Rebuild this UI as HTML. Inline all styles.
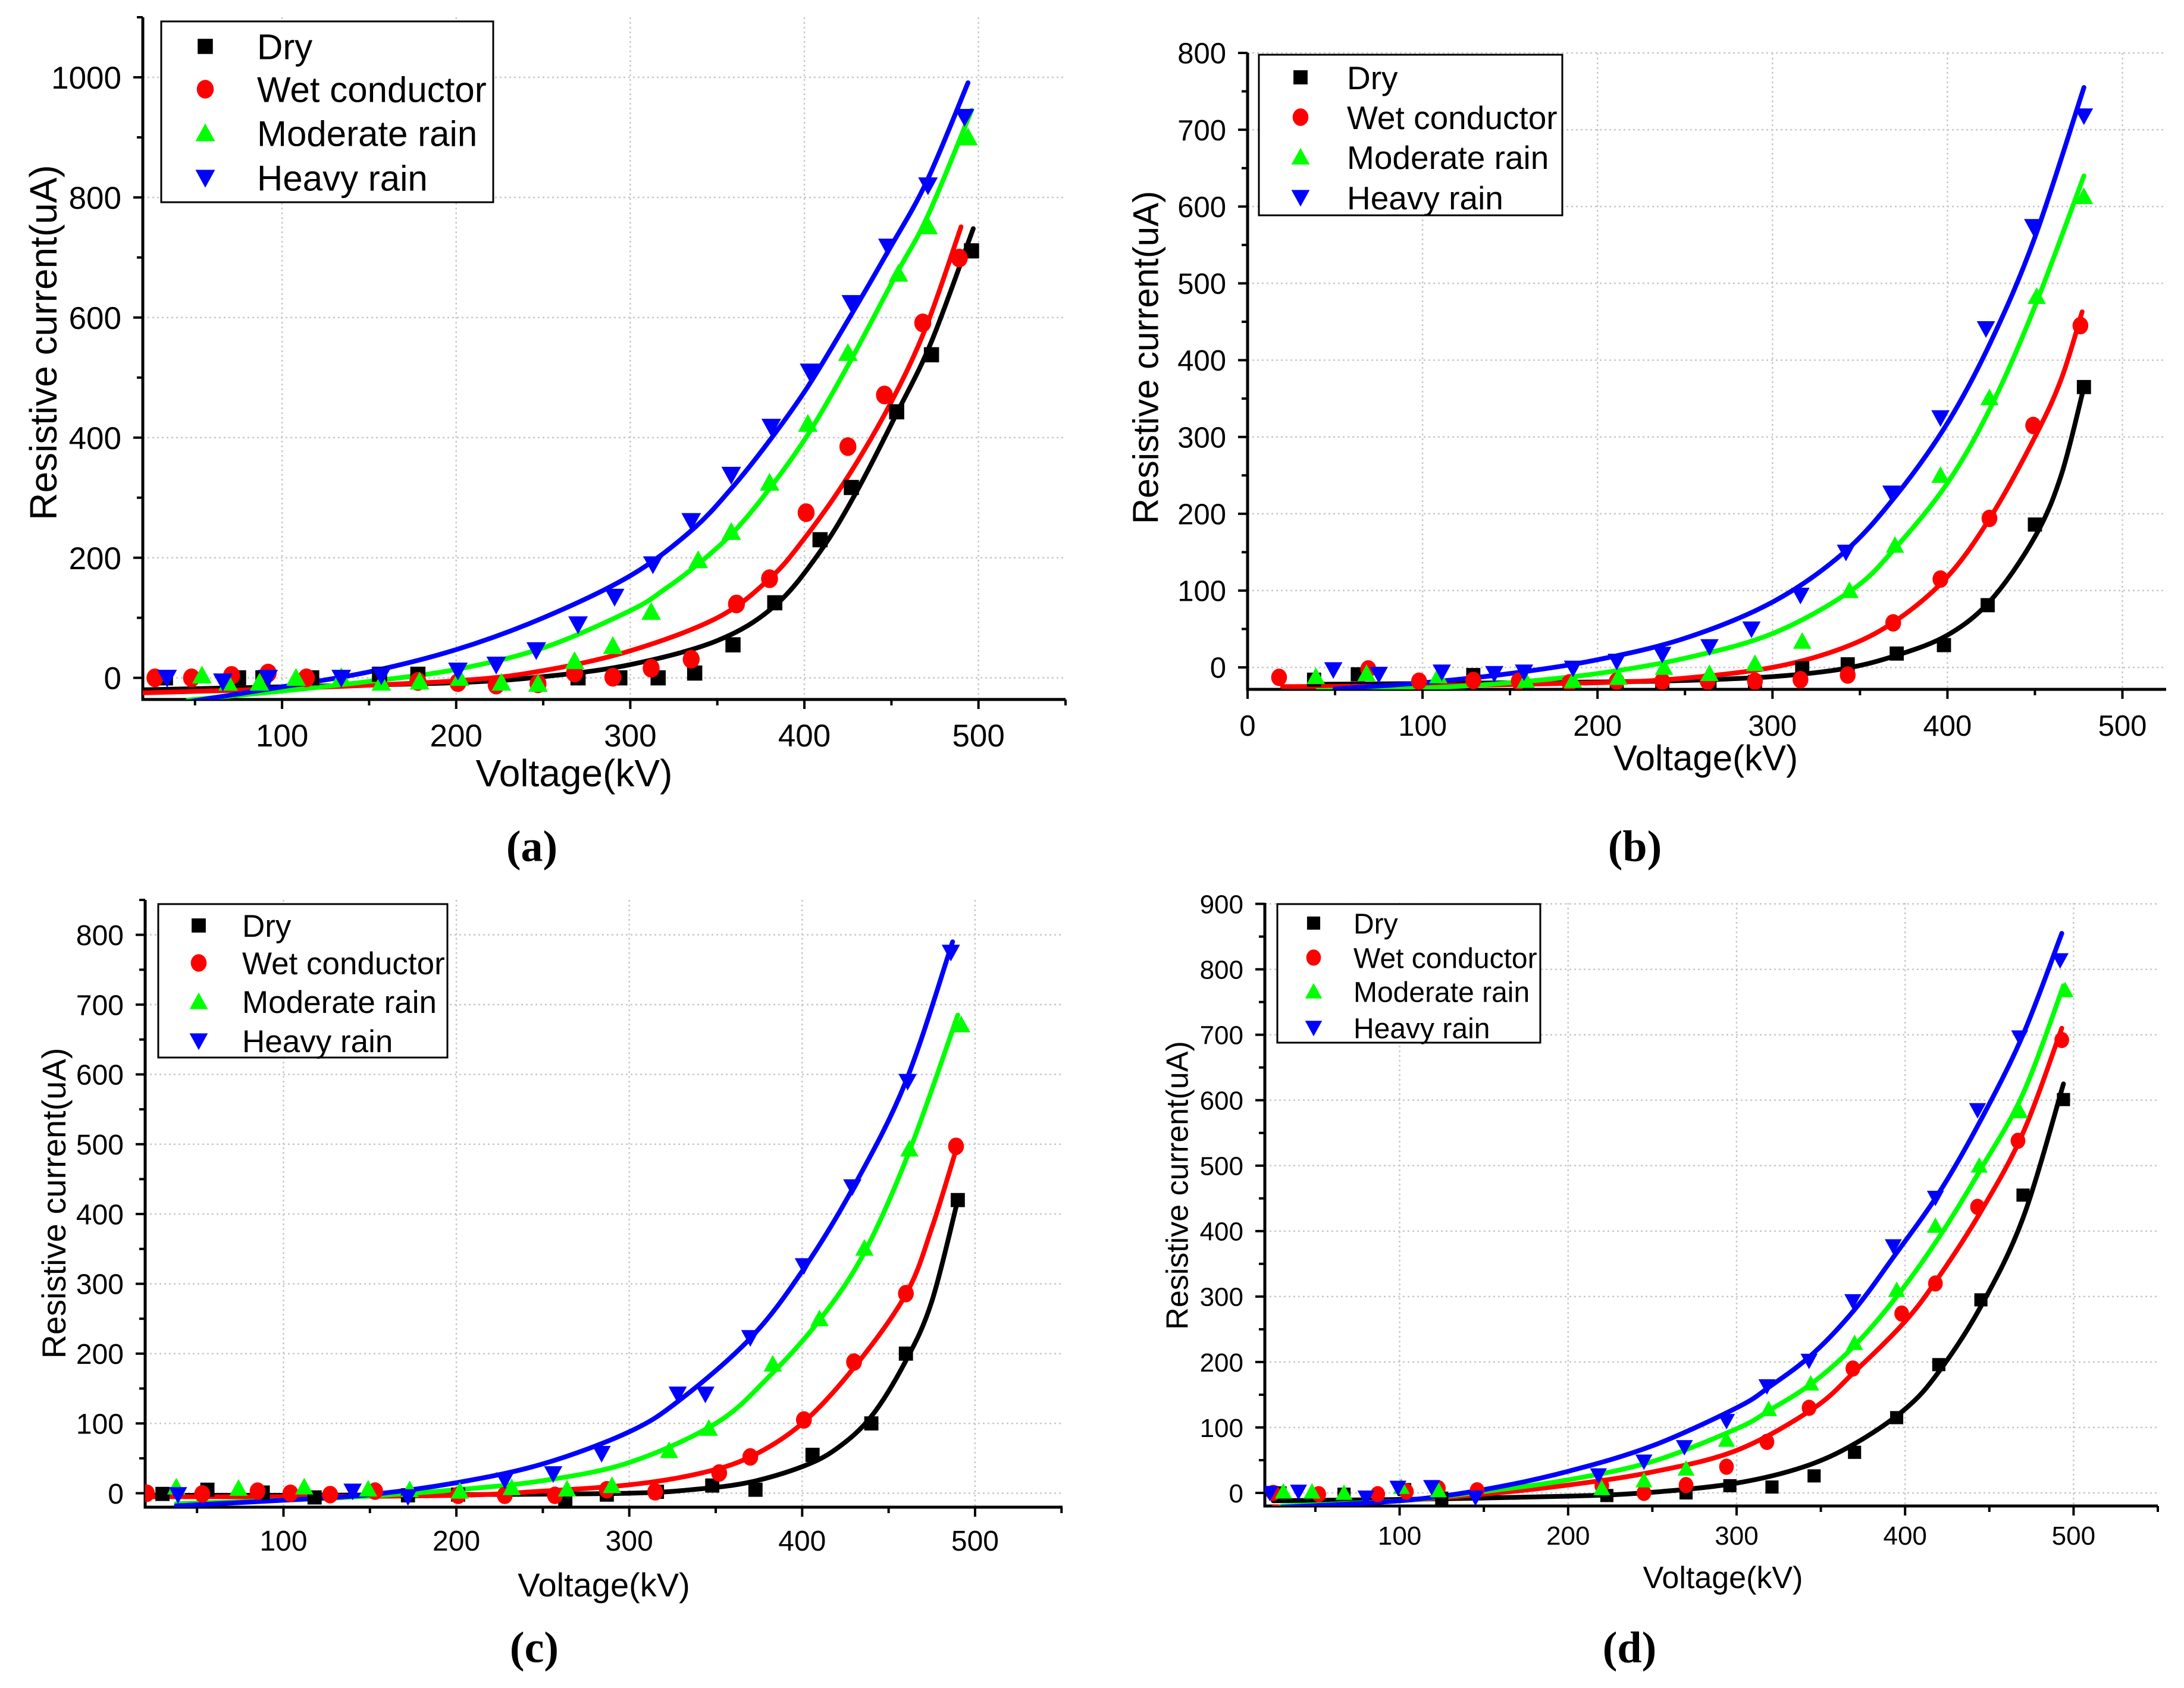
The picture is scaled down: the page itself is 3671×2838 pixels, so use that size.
<!DOCTYPE html>
<html><head><meta charset="utf-8">
<style>
html,body{margin:0;padding:0;background:#fff;}
svg{display:block;}
text{font-family:"Liberation Sans",Arial,sans-serif;fill:#000;}
.cap{font-family:"Liberation Serif","Times New Roman",serif;font-weight:bold;}
</style></head>
<body>
<svg id="fig" width="3671" height="2838" viewBox="0 0 3671 2838" xmlns="http://www.w3.org/2000/svg"></svg>
<script>
// ===== Panel (a) data =====
const aDryV=[33,75,89,117,156,178,270,294,316,337,359,383,409,427,453,473,496];
const aDryI=[0,0,0,0,6,6,0,0,0,8,55,125,230,317,443,538,711];
const aWetV=[27,48,71,92,114,178,201,223,247,268,290,312,335,361,380,401,425,446,468,489];
const aWetI=[0,0,4,8,0,-6,-8,-12,-10,8,1,16,31,123,165,275,385,471,591,699];
const aModV=[54,69,87,108,134,157,179,202,226,247,268,290,312,339,358,380,402,425,454,471,494];
const aModI=[4,-8,-8,0,1,-8,-6,0,-8,-10,28,53,110,196,243,325,423,541,673,752,900];
const aHeaV=[34,66,92,134,157,201,223,246,270,291,313,335,358,381,403,427,448,471,492];
const aHeaI=[0,-6,0,0,4,12,22,46,89,135,189,261,338,418,510,624,718,820,934];
const aDryFitV=[20,100,200,250,300,350,383,409,430,453,473,497];
const aDryFitI=[-20,-15,-8,2,22,62,120,210,310,440,560,748];
const aWetFitV=[20,100,200,250,300,350,380,400,425,450,470,490];
const aWetFitI=[-25,-18,-5,12,45,100,165,232,335,460,585,751];
const aModFitV=[46,100,150,200,250,300,320,340,360,380,402,425,453,471,496];
const aModFitI=[-37,-22,-6,14,50,112,148,192,245,315,405,520,673,770,945];
const aHeaFitV=[46,100,150,200,250,300,335,358,380,402,426,448,470,494];
const aHeaFitI=[-40,-15,10,47,100,170,245,315,395,485,600,710,825,991];

// ===== Panel (b) data =====
const bDryV=[38,63,129,184,211,237,264,290,317,343,371,398,423,450,478];
const bDryI=[-16,-9,-10,-23,-23,-22,-22,-19,-1,4,18,29,81,186,365];
const bWetV=[18,69,98,129,155,184,211,237,263,290,316,343,369,396,424,449,476];
const bWetI=[-13,-2,-18,-17,-18,-20,-18,-18,-18,-18,-16,-10,58,115,194,315,445];
const bModV=[39,68,109,159,186,212,238,264,290,317,344,370,396,424,451,478];
const bModI=[-12,-8,-11,-17,-17,-13,0,-8,5,34,100,159,250,351,483,613];
const bHeaV=[49,75,111,141,158,186,211,237,264,288,316,342,368,396,422,449,478];
const bHeaI=[-3,-9,-6,-8,-6,-1,8,17,27,50,94,150,227,325,441,574,718];
const bDryFitV=[40,100,200,250,300,340,370,400,425,450,465,478];
const bDryFitI=[-22,-21,-19,-17,-12,-2,15,42,88,170,250,365];
const bWetFitV=[20,100,200,250,300,340,370,400,425,450,465,477];
const bWetFitI=[-25,-24,-20,-14,0,25,60,118,197,300,375,463];
const bModFitV=[40,100,150,200,250,300,345,370,400,425,450,478];
const bModFitI=[-30,-27,-20,-8,12,44,100,155,240,340,470,640];
const bHeaFitV=[50,100,150,200,250,300,340,370,400,425,450,478];
const bHeaFitI=[-28,-20,-8,10,38,85,148,222,318,425,560,755];

// ===== Panel (c) data =====
const cDryV=[30,56,88,118,172,201,263,287,316,348,373,406,440,460,490];
const cDryI=[-1,5,1,-6,-3,-2,-11,-2,2,11,5,55,100,200,420];
const cWetV=[21,53,85,104,127,153,201,228,257,287,315,352,370,401,430,460,489];
const cWetI=[0,-1,3,0,-2,3,-3,-3,-3,5,2,29,52,105,188,286,497];
const cModV=[38,74,112,149,173,202,232,264,290,323,346,383,410,436,462,492];
const cModI=[9,7,9,6,5,3,8,6,11,61,93,185,250,351,493,671];
const cHeaV=[39,140,172,228,256,284,328,344,370,401,429,461,486];
const cHeaI=[-2,3,-5,19,28,57,142,142,223,326,439,590,775];
const cDryFitV=[25,100,200,300,340,370,400,420,440,460,475,490];
const cDryFitI=[-3,-3,-2,0,6,16,38,64,110,190,275,420];
const cWetFitV=[20,100,200,250,300,340,370,400,430,460,475,490];
const cWetFitI=[-5,-5,-3,3,12,28,52,100,180,285,380,500];
const cModFitV=[38,100,150,200,250,300,350,380,410,436,462,490];
const cModFitI=[-15,-10,-4,5,18,44,100,165,248,345,490,685];
const cHeaFitV=[38,100,150,200,250,300,330,370,400,430,460,487];
const cHeaFitI=[-18,-10,-2,15,42,88,135,222,318,440,590,790];

// ===== Panel (d) data =====
const dDryV=[29,67,103,125,223,270,296,321,346,370,395,420,445,470,494];
const dDryI=[0,-2,5,-8,-4,0,11,9,26,62,115,196,295,455,601];
const dWetV=[25,52,87,104,123,146,220,245,270,294,318,343,369,398,418,443,467,493];
const dWetI=[0,-2,-2,2,7,4,11,0,12,40,78,130,190,274,320,437,538,692];
const dModV=[31,48,67,101,123,220,245,270,294,319,344,370,395,418,444,468,495];
const dModI=[2,2,0,9,4,7,19,37,81,128,167,229,310,408,500,583,768];
const dHeaV=[23,40,80,99,119,145,218,245,269,294,318,343,369,393,418,443,468,492];
const dHeaI=[0,2,-7,8,9,-7,27,48,70,110,163,202,293,377,451,585,696,814];
const dDryFitV=[25,100,200,250,300,340,370,400,420,445,470,494];
const dDryFitI=[-12,-10,-5,1,15,40,75,128,185,285,420,625];
const dWetFitV=[25,100,150,200,250,300,345,370,400,420,445,470,493];
const dWetFitI=[-22,-12,-2,12,32,65,128,185,262,330,430,550,710];
const dModFitV=[30,100,150,200,250,300,320,345,370,395,420,445,470,494];
const dModFitI=[-20,-12,2,20,48,98,127,168,225,300,390,495,610,775];
const dHeaFitV=[30,100,150,200,250,300,320,345,370,393,420,445,470,493];
const dHeaFitI=[-22,-12,5,33,72,130,163,212,280,360,458,570,700,855];

// ===== Ticks / labels =====
const seriesNames=["Dry","Wet conductor","Moderate rain","Heavy rain"];
const xTicksA=[100,200,300,400,500];
const xTicksB=[0,100,200,300,400,500];
const yTicksA=[0,200,400,600,800,1000];
const yTicksB=[0,100,200,300,400,500,600,700,800];
const yTicksD=[0,100,200,300,400,500,600,700,800,900];

const NS="http://www.w3.org/2000/svg";
const svg=document.getElementById('fig');
const colors=["#000000","#ff0000","#00ff00","#0000ff"];
const shapes=["square","circle","up","down"];

function mk(tag,attrs,parent){const e=document.createElementNS(NS,tag);for(const k in attrs)e.setAttribute(k,attrs[k]);parent.appendChild(e);return e;}

function marker(g,shape,cx,cy,s,color){
  let e;
  if(shape==="square"){e=mk('rect',{x:cx-s*0.85,y:cy-s*0.85,width:s*1.7,height:s*1.7,fill:color},g);}
  else if(shape==="circle"){e=mk('ellipse',{cx:cx,cy:cy,rx:s*0.95,ry:s*1.05,fill:color},g);}
  else if(shape==="up"){e=mk('polygon',{points:`${cx},${cy-s*1.1} ${cx+s*1.1},${cy+s*0.9} ${cx-s*1.1},${cy+s*0.9}`,fill:color},g);}
  else {e=mk('polygon',{points:`${cx-s*1.1},${cy-s*0.9} ${cx+s*1.1},${cy-s*0.9} ${cx},${cy+s*1.1}`,fill:color},g);}
  return e;
}

function smoothPath(pts){
  let d=`M${pts[0][0].toFixed(1)},${pts[0][1].toFixed(1)}`;
  for(let i=0;i<pts.length-1;i++){
    const p0=pts[i-1]||pts[i],p1=pts[i],p2=pts[i+1],p3=pts[i+2]||pts[i+1];
    const c1x=p1[0]+(p2[0]-p0[0])/6,c1y=p1[1]+(p2[1]-p0[1])/6;
    const c2x=p2[0]-(p3[0]-p1[0])/6,c2y=p2[1]-(p3[1]-p1[1])/6;
    d+=` C${c1x.toFixed(1)},${c1y.toFixed(1)} ${c2x.toFixed(1)},${c2y.toFixed(1)} ${p2[0].toFixed(1)},${p2[1].toFixed(1)}`;
  }
  return d;
}

function panel(cfg){
  const g=mk('g',{},svg);
  
  
  const X=v=>cfg.L+(v-cfg.xmin)*(cfg.R-cfg.L)/(cfg.xmax-cfg.xmin);
  const Y=v=>cfg.B-(v-cfg.ymin)*(cfg.B-cfg.T)/(cfg.ymax-cfg.ymin);
  const clipId='clip'+cfg.id;
  const cp=mk('clipPath',{id:clipId},g);
  mk('rect',{x:cfg.L,y:cfg.T-20,width:cfg.R-cfg.L,height:cfg.B-cfg.T+20},cp);
  const grid=mk('g',{stroke:'#c8c8c8','stroke-width':2.5,'stroke-dasharray':'3,5'},g);
  
  
  cfg.xt.forEach(v=>{if(v>cfg.xmin) mk('line',{x1:X(v),x2:X(v),y1:cfg.T,y2:cfg.B},grid);});
  cfg.yt.forEach(v=>{mk('line',{x1:cfg.L,x2:cfg.R,y1:Y(v),y2:Y(v)},grid);});
  const ax=mk('g',{stroke:'#000','stroke-width':5},g);
  
  
  mk('line',{x1:cfg.L,x2:cfg.L,y1:cfg.T,y2:cfg.B+2.5},ax);
  mk('line',{x1:cfg.L-2.5,x2:cfg.R,y1:cfg.B,y2:cfg.B},ax);
  for(let v=0;v<=cfg.xmax;v+=50){
    if(v<cfg.xmin)continue;
    const major=v%100===0;
    mk('line',{x1:X(v),x2:X(v),y1:cfg.B,y2:cfg.B+(major?16:10),'stroke-width':4},ax);
  }
  for(let v=0;v<=cfg.ymax;v+=cfg.ymin_step){
    const major=cfg.yt.indexOf(v)>=0;
    mk('line',{x1:cfg.L,x2:cfg.L-(major?16:10),y1:Y(v),y2:Y(v),'stroke-width':4},ax);
  }
  const tl=mk('g',{'font-size':cfg.tfs},g);
  
  
  cfg.xt.forEach(v=>{const t=mk('text',{x:X(v),y:cfg.B+cfg.xlo,'text-anchor':'middle'},tl);t.textContent=v;
    
    });
  cfg.yt.forEach(v=>{const t=mk('text',{x:cfg.L-36,y:Y(v),dy:'0.36em','text-anchor':'end'},tl);t.textContent=v;
    
    });
  const xt=mk('text',{x:cfg.xtx,y:cfg.xty,'text-anchor':'middle','font-size':cfg.ttfs},g);
  xt.textContent='Voltage(kV)';
  
  
  const yt=mk('text',{x:0,y:0,dy:'0.36em','text-anchor':'middle','font-size':cfg.ttfs,transform:`translate(${cfg.ytx},${cfg.yty}) rotate(-90)`},g);
  yt.textContent='Resistive current(uA)';
  
  
  const plot=mk('g',{'clip-path':`url(#${clipId})`},g);
  cfg.series.forEach((s,i)=>{
    const pts=s.fv.map((v,k)=>[X(v),Y(s.fi[k])]);
    const p=mk('path',{d:smoothPath(pts),fill:'none',stroke:colors[i],'stroke-width':8,'stroke-linecap':'round'},plot);
    
    
  });
  cfg.series.forEach((s,i)=>{
    const mg=mk('g',{},plot);
    
    
    s.v.forEach((v,k)=>{const m=marker(mg,shapes[i],X(v),Y(s.i[k]),cfg.ms,colors[i]);
      
      });
  });
  const lg=mk('g',{},g);
  
  
  const b=cfg.lb;
  mk('rect',{x:b[0],y:b[1],width:b[2]-b[0],height:b[3]-b[1],fill:'#fff',stroke:'#000','stroke-width':3},lg);
  seriesNames.forEach((n,i)=>{
    const m=marker(lg,shapes[i],cfg.lmx,cfg.lr[i],cfg.ms,colors[i]);
    
    
    const t=mk('text',{x:cfg.ltx,y:cfg.lr[i],dy:'0.36em','font-size':cfg.lfs},lg);
    t.textContent=n;
    
    
  });
  const c=mk('text',{x:cfg.cx,y:cfg.cy,dy:'0.33em','text-anchor':'middle','font-size':74,class:'cap'},g);
  c.textContent='('+cfg.id+')';
  
  
}

panel({id:'a',L:240,R:1791,T:29,B:1176,xmin:20,xmax:550,ymin:-36,ymax:1100,ymin_step:100,
  xt:xTicksA,yt:yTicksA,tfs:53,xlo:79,ttfs:64,xtx:965,xty:1322,ytx:72,yty:576,ms:15,
  lb:[271,36,829,340],lr:[78,150,224,299],lmx:345,ltx:432,lfs:60,cx:894,cy:1423,
  series:[{v:aDryV,i:aDryI,fv:aDryFitV,fi:aDryFitI},{v:aWetV,i:aWetI,fv:aWetFitV,fi:aWetFitI},
          {v:aModV,i:aModI,fv:aModFitV,fi:aModFitI},{v:aHeaV,i:aHeaI,fv:aHeaFitV,fi:aHeaFitI}]});
panel({id:'b',L:2097,R:3641,T:89,B:1159,xmin:0,xmax:525,ymin:-28.6,ymax:800,ymin_step:50,
  xt:xTicksB,yt:yTicksB,tfs:49,xlo:78,ttfs:60,xtx:2867,xty:1295,ytx:1925,yty:601,ms:14,
  lb:[2116,92,2626,362],lr:[130,197,264,332],lmx:2186,ltx:2264,lfs:55,cx:2748,cy:1423,
  series:[{v:bDryV,i:bDryI,fv:bDryFitV,fi:bDryFitI},{v:bWetV,i:bWetI,fv:bWetFitV,fi:bWetFitI},
          {v:bModV,i:bModI,fv:bModFitV,fi:bModFitI},{v:bHeaV,i:bHeaI,fv:bHeaFitV,fi:bHeaFitI}]});
panel({id:'c',L:244,R:1786,T:1513,B:2534,xmin:20,xmax:550.6,ymin:-20,ymax:850,ymin_step:50,
  xt:xTicksA,yt:yTicksB,tfs:48,xlo:73,ttfs:56,xtx:1015,xty:2684,ytx:90,yty:2023,ms:14,
  lb:[266,1520,752,1778],lr:[1556,1619,1684,1750],lmx:334,ltx:407,lfs:53,cx:898,cy:2770,
  series:[{v:cDryV,i:cDryI,fv:cDryFitV,fi:cDryFitI},{v:cWetV,i:cWetI,fv:cWetFitV,fi:cWetFitI},
          {v:cModV,i:cModI,fv:cModFitV,fi:cModFitI},{v:cHeaV,i:cHeaI,fv:cHeaFitV,fi:cHeaFitI}]});
panel({id:'d',L:2126,R:3627,T:1518,B:2532,xmin:20,xmax:550,ymin:-20,ymax:901.5,ymin_step:50,
  xt:xTicksA,yt:yTicksD,tfs:44,xlo:65,ttfs:52,xtx:2896,xty:2670,ytx:1978,yty:1993,ms:13,
  lb:[2147,1520,2589,1753],lr:[1552,1610,1667,1728],lmx:2208,ltx:2275,lfs:48,cx:2739,cy:2770,
  series:[{v:dDryV,i:dDryI,fv:dDryFitV,fi:dDryFitI},{v:dWetV,i:dWetI,fv:dWetFitV,fi:dWetFitI},
          {v:dModV,i:dModI,fv:dModFitV,fi:dModFitI},{v:dHeaV,i:dHeaI,fv:dHeaFitV,fi:dHeaFitI}]});
</script>
</body></html>
